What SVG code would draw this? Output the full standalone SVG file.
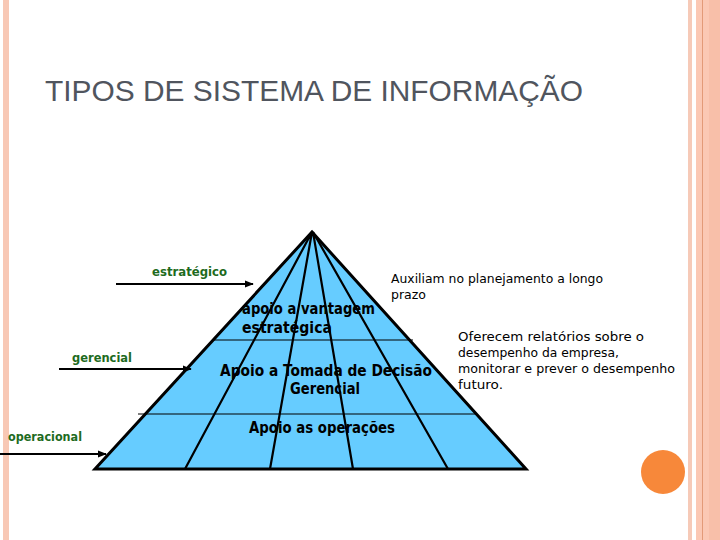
<svg xmlns="http://www.w3.org/2000/svg" width="720" height="540" viewBox="0 0 720 540">
<defs>
<style>
.title{font-family:"Liberation Sans",Arial,sans-serif;font-size:30px;fill:#50555e}
.lvl{font-family:"DejaVu Sans","Liberation Sans",sans-serif;font-size:12.5px;font-weight:bold;fill:#1e6b1e}
.pyr{font-family:"DejaVu Sans","Liberation Sans",sans-serif;font-size:15px;font-weight:bold;fill:#000}
.note{font-family:"DejaVu Sans","Liberation Sans",sans-serif;font-size:13px;fill:#000}
.edge{stroke:#000;stroke-width:3;fill:none}
.ray{stroke:#000;stroke-width:2.2;fill:none}
.hl{stroke:#000;stroke-width:1.2}
.arr{stroke:#000;stroke-width:2;fill:none;marker-end:url(#ah)}
</style>
<marker id="ah" viewBox="0 0 10 10" refX="9" refY="5" markerWidth="4.5" markerHeight="4.5" orient="auto" markerUnits="strokeWidth">
<path d="M0,1 L10,5 L0,9 z" fill="#000"/>
</marker>
</defs>
<rect width="720" height="540" fill="#fff"/>
<g id="frame">
<rect x="3" y="0" width="6" height="540" fill="#f8c8b5"/>
<rect x="688" y="0" width="4" height="540" fill="#f6cab8"/>
<rect x="696" y="0" width="24" height="540" fill="#fbc8b4"/>
<rect x="709" y="0" width="11" height="540" fill="#f8bfa9"/>
<rect x="702" y="0" width="1" height="540" fill="#e39a78"/>
</g>
<g id="title"><text class="title" x="45" y="101" textLength="538" lengthAdjust="spacingAndGlyphs">TIPOS DE SISTEMA DE INFORMAÇÃO</text></g>
<g id="pyramid">
<polygon points="312,232 95,469 526,469" fill="#66ccff"/>
<line class="hl" x1="213" y1="340" x2="413" y2="340"/>
<line class="hl" x1="138" y1="414" x2="477" y2="414"/>
<path class="ray" d="M312,232 L185,469 M312,232 L270,469 M313,232 L353,469 M313,232 L448,469"/>
<polygon class="edge" points="312,232 95,469 526,469"/>
<text class="pyr" x="242" y="314" textLength="133" lengthAdjust="spacingAndGlyphs">apoio a vantagem</text>
<text class="pyr" x="242" y="333" textLength="90" lengthAdjust="spacingAndGlyphs">estratégica</text>
<text class="pyr" x="220" y="376" textLength="212" lengthAdjust="spacingAndGlyphs">Apoio a Tomada de Decisão</text>
<text class="pyr" x="290" y="394" textLength="70" lengthAdjust="spacingAndGlyphs">Gerencial</text>
<text class="pyr" x="249" y="433" textLength="146" lengthAdjust="spacingAndGlyphs">Apoio as operações</text>
</g>
<g id="lbl-estrategico"><text class="lvl" x="152" y="276" textLength="75" lengthAdjust="spacingAndGlyphs">estratégico</text></g>
<g id="lbl-gerencial"><text class="lvl" x="72" y="362" textLength="60" lengthAdjust="spacingAndGlyphs">gerencial</text></g>
<g id="lbl-operacional"><text class="lvl" x="8" y="441" textLength="74" lengthAdjust="spacingAndGlyphs">operacional</text></g>
<g id="note-longo">
<text class="note" x="391" y="283" textLength="212" lengthAdjust="spacingAndGlyphs">Auxiliam no planejamento a longo</text>
<text class="note" x="391" y="299" textLength="35" lengthAdjust="spacingAndGlyphs">prazo</text>
</g>
<g id="note-relatorios">
<text class="note" x="458" y="341" textLength="186" lengthAdjust="spacingAndGlyphs">Oferecem relatórios sobre o</text>
<text class="note" x="458" y="357" textLength="161" lengthAdjust="spacingAndGlyphs">desempenho da empresa,</text>
<text class="note" x="458" y="373" textLength="217" lengthAdjust="spacingAndGlyphs">monitorar e prever o desempenho</text>
<text class="note" x="458" y="389" textLength="45" lengthAdjust="spacingAndGlyphs">futuro.</text>
</g>
<g id="connectors">
<line class="arr" x1="116" y1="284" x2="253" y2="284"/>
<line class="arr" x1="59" y1="369" x2="191" y2="369"/>
<line class="arr" x1="0" y1="454" x2="106" y2="454"/>
</g>
<g id="dot"><circle cx="663" cy="472" r="22" fill="#f7883a"/></g>
</svg>
